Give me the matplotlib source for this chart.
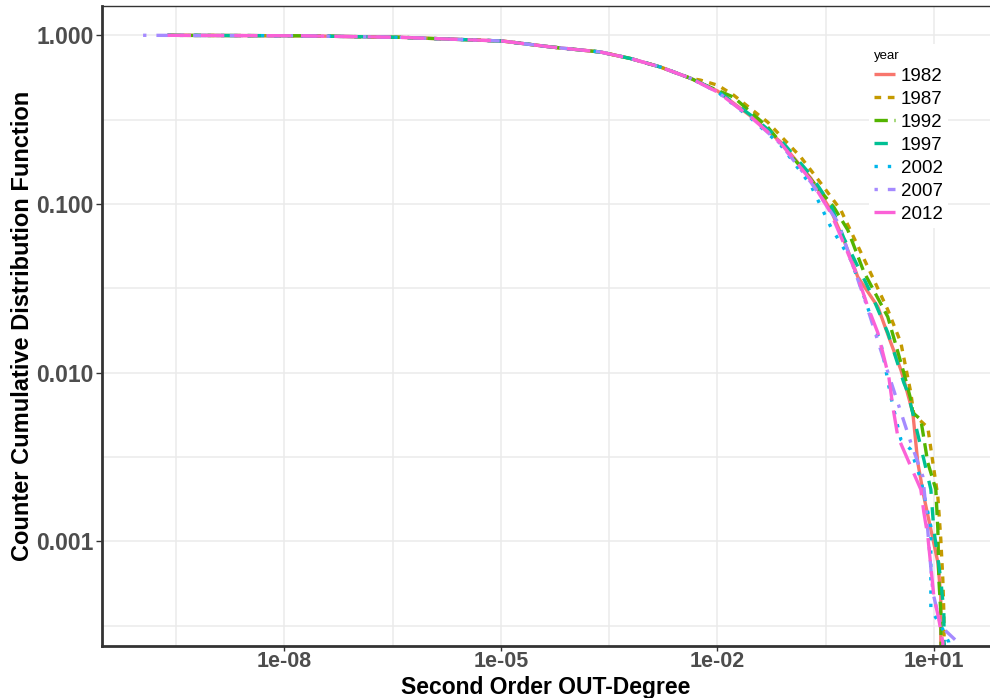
import numpy as np
import matplotlib
matplotlib.use("Agg")
import matplotlib.pyplot as plt
from matplotlib.ticker import FixedLocator, FixedFormatter

plt.rcParams['font.family'] = ['Liberation Sans', 'DejaVu Sans']

years = ['1982', '1987', '1992', '1997', '2002', '2007', '2012']
colors = ['#F8766D', '#C49A00', '#53B400', '#00C094', '#00B6EB', '#A58AFF', '#FB61D7']

# shared head of all curves: log10(degree), log10(CCDF)
head_logx = [-9.62, -7.78, -6.39, -4.98, -4.31, -3.62, -3.20, -2.79, -2.37]
head_logy = [0.0, -0.003, -0.012, -0.034, -0.069, -0.099, -0.138, -0.188, -0.255]

# tails per year (log10 values)
tail_logx = {
    '1982': [-1.994, -1.537, -1.121, -0.705, -0.427, -0.219, -0.053, 0.225, 0.405, 0.544, 0.585,
             0.710, 0.779, 0.863, 0.960, 1.057, 1.098, 1.098],
    '1987': [-2.230, -1.994, -1.773, -1.301, -0.843, -0.566, -0.288, 0.086, 0.363, 0.544, 0.682,
             0.724, 0.918, 0.988, 1.057, 1.098, 1.126, 1.140, 1.154],
    '1992': [-2.230, -1.773, -1.301, -0.843, -0.386, -0.191, 0.031, 0.363, 0.585, 0.682, 0.710,
             0.821, 0.918, 1.029, 1.057, 1.071, 1.098, 1.112],
    '1997': [-1.994, -1.537, -1.121, -0.705, -0.427, -0.247, 0.128, 0.363, 0.585, 0.641, 0.863,
             0.960, 1.001, 1.098, 1.140, 1.154],
    '2002': [-1.994, -1.537, -1.121, -0.705, -0.427, -0.150, 0.017, 0.155, 0.266, 0.405, 0.544,
             0.682, 0.821, 0.960, 0.960, 1.126, 1.209, 1.237],
    '2007': [-1.994, -1.537, -1.121, -0.705, -0.330, 0.031, 0.308, 0.502, 0.682, 0.849, 0.890,
             0.988, 1.098, 1.334, 1.376],
    '2012': [-1.994, -1.537, -1.121, -0.705, -0.427, -0.191, -0.039, 0.086, 0.225, 0.308, 0.377,
             0.433, 0.502, 0.682, 0.821, 0.863, 0.918, 0.960, 1.001, 1.071, 1.126, 1.126],
}
tail_logy = {
    '1982': [-0.331, -0.479, -0.633, -0.846, -1.036, -1.243, -1.432, -1.609, -1.822, -1.982, -2.041,
             -2.237, -2.533, -2.734, -2.929, -3.124, -3.325, -4.0],
    '1987': [-0.266, -0.296, -0.355, -0.515, -0.722, -0.876, -1.036, -1.373, -1.627, -1.822, -2.118,
             -2.249, -2.325, -2.533, -2.734, -2.988, -3.225, -3.420, -4.0],
    '1992': [-0.284, -0.367, -0.544, -0.781, -1.018, -1.154, -1.402, -1.669, -2.0, -2.160, -2.237,
             -2.278, -2.533, -2.692, -2.929, -3.225, -3.420, -4.0],
    '1997': [-0.331, -0.473, -0.621, -0.828, -1.006, -1.201, -1.527, -1.763, -2.059, -2.118, -2.515,
             -2.692, -2.929, -3.225, -3.420, -4.0],
    '2002': [-0.337, -0.491, -0.651, -0.888, -1.136, -1.331, -1.527, -1.704, -1.822, -2.142, -2.396,
             -2.456, -2.633, -2.911, -3.402, -3.521, -3.598, -3.70],
    '2007': [-0.337, -0.485, -0.645, -0.870, -1.107, -1.550, -1.923, -2.178, -2.414, -2.615, -2.793,
             -3.302, -3.503, -3.598, -3.70],
    '2012': [-0.337, -0.485, -0.639, -0.858, -1.053, -1.290, -1.450, -1.609, -1.763, -1.905, -2.024,
             -2.201, -2.379, -2.556, -2.692, -2.828, -2.970, -3.148, -3.325, -3.462, -3.598, -4.0],
}
start_logx = {'1982': -9.62, '1987': -9.62, '1992': -9.62, '1997': -9.62,
              '2002': -9.62, '2007': -9.96, '2012': -9.62}

x_ticks = [1e-8, 1e-5, 1e-2, 1e1]
x_labels = ['1e-08', '1e-05', '1e-02', '1e+01']
y_ticks = [1.0, 0.1, 0.01, 0.001]
y_labels = ['1.000', '0.100', '0.010', '0.001']

# ggplot-like linetypes
dashes = {
    '1982': None,
    '1987': (2, 2),
    '1992': (4, 2),
    '1997': (4, 4),
    '2002': (1, 3),
    '2007': (1, 3, 4, 3),
    '2012': (7, 3),
}

fig = plt.figure(figsize=(9.9, 6.98), dpi=100)
ax = fig.add_axes([0.103, 0.0745, 0.897, 0.9165])

for yr, col in zip(years, colors):
    lx = [start_logx[yr]] + head_logx[1:] + tail_logx[yr]
    ly = [0.0] + head_logy[1:] + tail_logy[yr]
    xs = np.power(10.0, lx)
    ys = np.power(10.0, ly)
    ln, = ax.plot(xs, ys, color=col, lw=2.4, label=yr, solid_capstyle='butt',
                  dash_capstyle='butt')
    if dashes[yr] is not None:
        ln.set_dashes(dashes[yr])

ax.set_xscale('log')
ax.set_yscale('log')
ax.set_xlim(10 ** -10.53, 10 ** 1.78)
ax.set_ylim(10 ** -3.62, 10 ** 0.172)

ax.xaxis.set_major_locator(FixedLocator(x_ticks))
ax.xaxis.set_major_formatter(FixedFormatter(x_labels))
ax.xaxis.set_minor_locator(FixedLocator([10 ** -9.5, 10 ** -6.5, 10 ** -3.5, 10 ** -0.5]))
ax.yaxis.set_major_locator(FixedLocator(y_ticks))
ax.yaxis.set_major_formatter(FixedFormatter(y_labels))
ax.yaxis.set_minor_locator(FixedLocator([10 ** -0.5, 10 ** -1.5, 10 ** -2.5, 10 ** -3.5]))
ax.xaxis.set_minor_formatter(FixedFormatter([]))
ax.yaxis.set_minor_formatter(FixedFormatter([]))

ax.grid(True, which='major', color='#EBEBEB', lw=1.1)
ax.grid(True, which='minor', color='#EBEBEB', lw=1.1)
ax.set_axisbelow(True)

ax.tick_params(which='major', direction='out', length=4, width=1, color='#333333',
               labelsize=16.5, labelcolor='#4D4D4D', pad=2)
ax.tick_params(axis='x', which='major', length=3.5, pad=0.3, labelsize=15.5)
ax.tick_params(which='minor', length=0)
for lab in ax.get_xticklabels() + ax.get_yticklabels():
    lab.set_fontweight('bold')

for s in ['left', 'bottom']:
    ax.spines[s].set_color('#333333')
    ax.spines[s].set_linewidth(2.0)
ax.spines['top'].set_color('#333333')
ax.spines['top'].set_linewidth(1.0)
ax.spines['right'].set_visible(False)

ax.set_xlabel('Second Order OUT-Degree', fontsize=16.5, fontweight='bold', color='black', labelpad=2.5)
ax.set_ylabel('Counter Cumulative Distribution Function', fontsize=17, fontweight='bold',
              color='black', labelpad=1.5)

leg = ax.legend(title='year', loc='upper left', bbox_to_anchor=(0.853, 0.955),
                frameon=True, fontsize=13.5, title_fontsize=9.5, handlelength=1.1,
                handletextpad=0.3, labelspacing=0.31, borderpad=0.3, alignment='left')
leg.get_frame().set_facecolor('white')
leg.get_frame().set_edgecolor('none')
leg.get_frame().set_alpha(1.0)

fig.savefig('out.png', dpi=100)
